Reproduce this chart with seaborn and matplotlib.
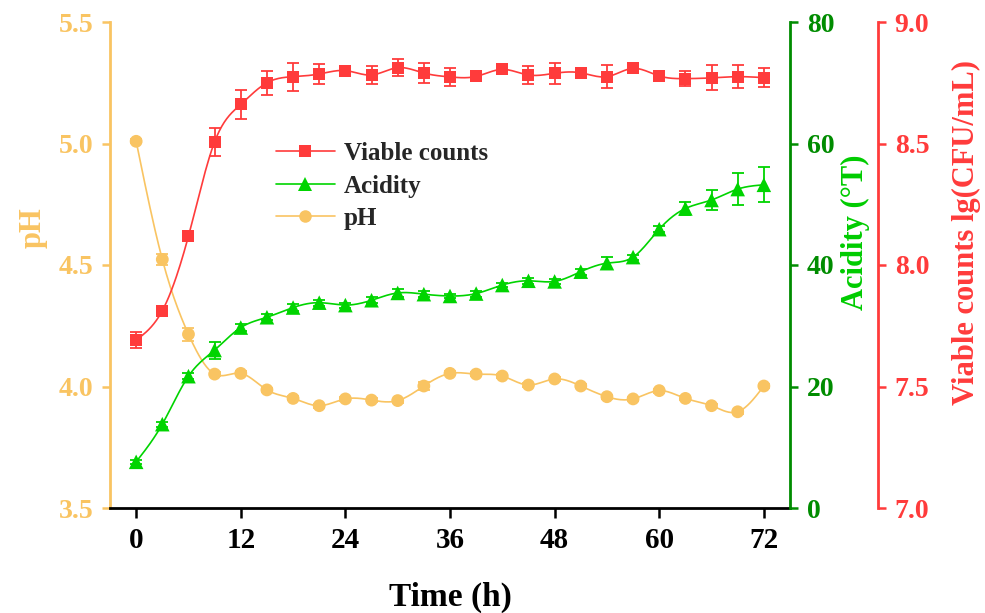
import numpy as np
import pandas as pd
import matplotlib
matplotlib.use("Agg")
import matplotlib.pyplot as plt
import seaborn as sns
from matplotlib.lines import Line2D
from matplotlib.ticker import FormatStrFormatter

# ---------------- data ----------------
time_h = [0, 3, 6, 9, 12, 15, 18, 21, 24, 27, 30, 33, 36, 39, 42, 45, 48, 51, 54, 57, 60, 63, 66, 69, 72]
viable = [7.691, 7.812, 8.119, 8.507, 8.661, 8.750, 8.775, 8.786, 8.800, 8.782, 8.812, 8.790, 8.774,
          8.776, 8.805, 8.782, 8.789, 8.791, 8.775, 8.809, 8.778, 8.767, 8.770, 8.775, 8.771]
viable_err = [0.034, 0.008, 0.008, 0.058, 0.06, 0.05, 0.058, 0.043, 0.008, 0.036, 0.034, 0.042, 0.038,
              0.008, 0.008, 0.036, 0.043, 0.008, 0.046, 0.008, 0.008, 0.031, 0.051, 0.046, 0.038]
acidity = [7.6, 13.8, 21.7, 26.0, 29.7, 31.4, 33.0, 33.8, 33.4, 34.2, 35.4, 35.2, 34.9,
           35.3, 36.7, 37.4, 37.3, 38.9, 40.3, 41.3, 45.9, 49.3, 50.7, 52.5, 53.2]
acidity_err = [0.3, 0.4, 0.5, 1.4, 0.6, 0.5, 0.5, 0.5, 0.4, 0.5, 0.6, 0.5, 0.4,
               0.5, 0.4, 0.5, 0.4, 0.5, 1.0, 0.4, 0.5, 1.1, 1.6, 2.7, 2.9]
ph = [5.009, 4.523, 4.215, 4.051, 4.054, 3.986, 3.951, 3.921, 3.949, 3.944, 3.942, 4.002, 4.054,
      4.051, 4.043, 4.006, 4.031, 4.002, 3.958, 3.949, 3.983, 3.951, 3.921, 3.896, 4.002]
ph_err = [0.008, 0.022, 0.027, 0.008, 0.008, 0.008, 0.008, 0.008, 0.008, 0.008, 0.008, 0.015, 0.008,
          0.008, 0.008, 0.008, 0.008, 0.008, 0.008, 0.008, 0.008, 0.008, 0.008, 0.008, 0.008]
x_ticks = [0, 12, 24, 36, 48, 60, 72]
series_names = ["Viable counts", "Acidity", "pH"]

# ---------------- style ----------------
C_PH = "#F9C462"
C_AC = "#00D400"
C_AC_AX = "#008C00"
C_VC = "#FF3B3B"

sns.set_theme(style="ticks")
plt.rcParams["font.family"] = ["Liberation Serif", "DejaVu Serif"]
plt.rcParams["font.weight"] = "bold"
plt.rcParams["axes.labelweight"] = "bold"


def natural_spline(x, y, n=500):
    x = np.asarray(x, float)
    y = np.asarray(y, float)
    m = len(x)
    h = np.diff(x)
    A = np.zeros((m, m))
    rhs = np.zeros(m)
    A[0, 0] = 1
    A[-1, -1] = 1
    for i in range(1, m - 1):
        A[i, i - 1] = h[i - 1]
        A[i, i] = 2 * (h[i - 1] + h[i])
        A[i, i + 1] = h[i]
        rhs[i] = 6 * ((y[i + 1] - y[i]) / h[i] - (y[i] - y[i - 1]) / h[i - 1])
    M = np.linalg.solve(A, rhs)
    xf = np.linspace(x[0], x[-1], n)
    idx = np.clip(np.searchsorted(x, xf) - 1, 0, m - 2)
    x0 = x[idx]
    x1 = x[idx + 1]
    hh = x1 - x0
    a = (x1 - xf) / hh
    b = (xf - x0) / hh
    yf = a * y[idx] + b * y[idx + 1] + ((a ** 3 - a) * M[idx] + (b ** 3 - b) * M[idx + 1]) * hh ** 2 / 6
    return xf, yf


fig = plt.figure(figsize=(9.85, 6.13), dpi=100)
L, R, B, T = 110, 790, 508, 22
W, H = 985, 613
ax = fig.add_axes([L / W, (H - B) / H, (R - L) / W, (B - T) / H])
ax2 = ax.twinx()
ax3 = ax.twinx()


def draw(axis, y, err, color, marker, size):
    xf, yf = natural_spline(time_h, y)
    sns.lineplot(x=xf, y=yf, ax=axis, color=color, lw=1.2, sort=False, zorder=2)
    axis.errorbar(time_h, y, yerr=err, fmt="none", ecolor=color, elinewidth=1.3,
                  capsize=4.2, capthick=1.3, zorder=3)
    sns.scatterplot(x=time_h, y=y, ax=axis, color=color, marker=marker, s=size,
                    edgecolor="none", linewidth=0, zorder=4)


draw(ax, ph, ph_err, C_PH, "o", 85)
draw(ax2, acidity, acidity_err, C_AC, "^", 110)
draw(ax3, viable, viable_err, C_VC, "s", 75)

ax.set_xlim(-3, 75)
ax.set_ylim(3.5, 5.5)
ax2.set_ylim(0, 80)
ax3.set_ylim(7.0, 9.0)

ax.set_xticks(x_ticks)
ax.set_yticks([3.5, 4.0, 4.5, 5.0, 5.5])
ax2.set_yticks([0, 20, 40, 60, 80])
ax3.set_yticks([7.0, 7.5, 8.0, 8.5, 9.0])
ax.yaxis.set_major_formatter(FormatStrFormatter("%.1f"))
ax3.yaxis.set_major_formatter(FormatStrFormatter("%.1f"))

lw_sp = 2.0
for a in (ax, ax2, ax3):
    for s in a.spines.values():
        s.set_visible(False)
    a.grid(False)

ax.spines["left"].set_visible(True)
ax.spines["left"].set_color(C_PH)
ax.spines["left"].set_linewidth(lw_sp)
ax.spines["bottom"].set_visible(True)
ax.spines["bottom"].set_color("black")
ax.spines["bottom"].set_linewidth(lw_sp)
ax2.spines["right"].set_visible(True)
ax2.spines["right"].set_color(C_AC_AX)
ax2.spines["right"].set_linewidth(lw_sp)
ax3.spines["right"].set_visible(True)
ax3.spines["right"].set_color(C_VC)
ax3.spines["right"].set_linewidth(lw_sp)
ax3.spines["right"].set_position(("axes", (878 - L) / (R - L)))

ax.tick_params(axis="x", direction="out", length=7, width=1.8, color="black",
               labelsize=21, labelcolor="black", pad=7)
ax.tick_params(axis="y", direction="out", length=6, width=1.8, color=C_PH,
               labelsize=20, labelcolor=C_PH, pad=6)
ax2.tick_params(axis="y", direction="out", length=6, width=1.8, color=C_AC_AX,
                labelsize=20, labelcolor=C_AC_AX, pad=6)
ax3.tick_params(axis="y", direction="out", length=6, width=1.8, color=C_VC,
                labelsize=20, labelcolor=C_VC, pad=6)
for a in (ax, ax2, ax3):
    for lab in a.get_xticklabels() + a.get_yticklabels():
        lab.set_fontweight("bold")

ax.set_xlabel("Time (h)", fontsize=24, fontweight="bold", color="black")
ax.xaxis.set_label_coords(0.5, -0.152)
ax.set_ylabel("pH", fontsize=22, fontweight="bold", color=C_PH)
ax.yaxis.set_label_coords(-0.092, 0.577)
ax2.set_ylabel("Acidity (°T)", fontsize=22, fontweight="bold", color="#00CC00")
ax2.yaxis.set_label_coords(1.075, 0.568)
ax3.set_ylabel("Viable counts lg(CFU/mL)", fontsize=22, fontweight="bold", color=C_VC)
ax3.yaxis.set_label_coords(1.238, 0.566)

handles = [
    Line2D([], [], color=C_VC, lw=1.2, marker="s", markersize=9, markeredgewidth=0),
    Line2D([], [], color=C_AC, lw=1.2, marker="^", markersize=10.5, markeredgewidth=0),
    Line2D([], [], color=C_PH, lw=1.2, marker="o", markersize=9, markeredgewidth=0),
]
leg = ax3.legend(handles, series_names, loc="upper left", bbox_to_anchor=(276 / W, (H - 142) / H),
                 bbox_transform=fig.transFigure, frameon=False, handlelength=2.35,
                 handletextpad=0.35, labelspacing=0.38, borderpad=0, borderaxespad=0, numpoints=1,
                 prop={"weight": "bold", "size": 18})

fig.savefig("out.png", dpi=100)
